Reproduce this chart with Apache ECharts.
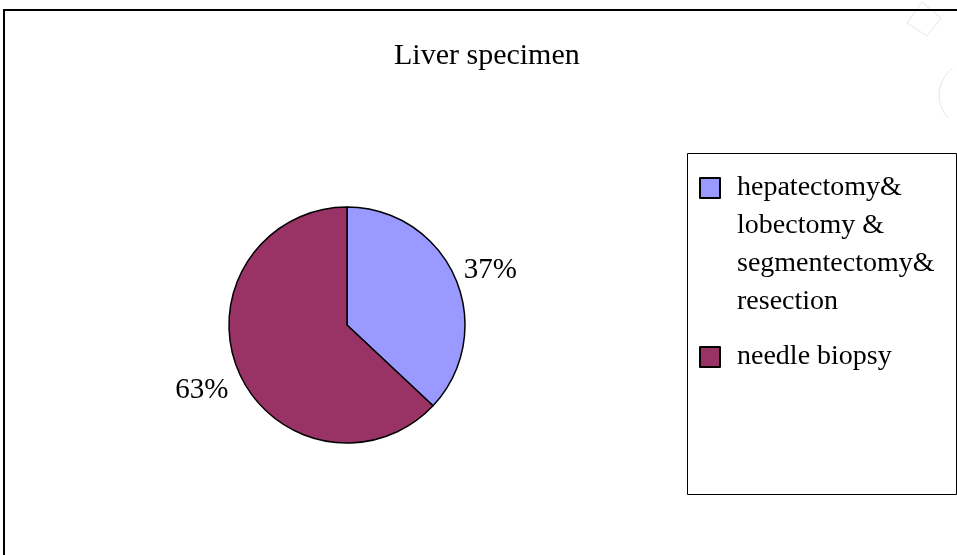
<!DOCTYPE html>
<html>
<head>
<meta charset="utf-8">
<script src="https://cdn.jsdelivr.net/npm/echarts@6/dist/echarts.min.js"></script>
<style>
  html, body { margin: 0; padding: 0; background: #fff; }
  #chart { width: 957px; height: 555px; }
</style>
</head>
<body>
<div id="chart"></div>
<script>
const chartTitle = 'Liver specimen';
const categories = ['hepatectomy&\nlobectomy &\nsegmentectomy&\nresection', 'needle biopsy'];
const values = [37, 63];
const colors = ['#9999FF', '#993366'];

const FONT = '"Liberation Serif", "DejaVu Serif", serif';
const chart = echarts.init(document.getElementById('chart'), null, { renderer: 'canvas' });

const option = {
  backgroundColor: '#ffffff',
  animation: false,
  color: colors,
  title: {
    text: chartTitle,
    left: 394,
    top: 41,
    padding: 0,
    textStyle: { fontFamily: FONT, fontSize: 30, fontWeight: 'normal', color: '#000' }
  },
  legend: [
    {
      data: [categories[0]],
      orient: 'vertical',
      left: 699,
      top: 55,
      padding: 0,
      itemWidth: 20,
      itemHeight: 20,
      icon: 'rect',
      selectedMode: false,
      formatter: function (name) { return '\n\n\n' + name; },
      textStyle: { fontFamily: FONT, fontSize: 28, lineHeight: 38, color: '#000', padding: [0, 0, 0, 12] }
    },
    {
      data: [categories[1]],
      orient: 'vertical',
      left: 699,
      top: 338,
      padding: 0,
      itemWidth: 20,
      itemHeight: 20,
      icon: 'rect',
      selectedMode: false,
      textStyle: { fontFamily: FONT, fontSize: 28, lineHeight: 38, color: '#000', padding: [0, 0, 0, 12] }
    }
  ],
  graphic: [
    {
      type: 'rect',
      z: -1,
      shape: { x: 4, y: 10, width: 1000, height: 600 },
      style: { fill: 'none', stroke: '#000', lineWidth: 2 }
    },
    {
      type: 'rect',
      z: -1,
      shape: { x: 687.5, y: 153.5, width: 269, height: 341 },
      style: { fill: 'none', stroke: '#000', lineWidth: 1 }
    },
    {
      type: 'polygon',
      z: -2,
      shape: { points: [[922, 2], [941, 18], [927, 36], [907, 23]] },
      style: { fill: 'none', stroke: '#e6e6e6', lineWidth: 1 }
    },
    {
      type: 'arc',
      z: -2,
      shape: { cx: 972, cy: 95, r: 33, startAngle: Math.PI * 0.75, endAngle: Math.PI * 1.3, clockwise: true },
      style: { fill: 'none', stroke: '#e6e6e6', lineWidth: 1 }
    }
  ],
  series: [
    {
      type: 'pie',
      center: [347, 325],
      radius: 118,
      startAngle: 90,
      clockwise: true,
      avoidLabelOverlap: false,
      itemStyle: { borderColor: '#000', borderWidth: 1.5 },
      emphasis: { disabled: true },
      label: {
        show: true,
        position: 'outside',
        formatter: function (p) { return Math.round(p.percent) + '%'; },
        fontFamily: FONT,
        fontSize: 29,
        color: '#000'
      },
      labelLine: { show: false, length: 8, length2: 0 },
      labelLayout: function (p) {
        return p.dataIndex === 0 ? { dx: -4, dy: -5 } : { dx: 2, dy: 15 };
      },
      data: categories.map(function (c, i) { return { name: c, value: values[i] }; })
    }
  ]
};
chart.setOption(option);
</script>
</body>
</html>
